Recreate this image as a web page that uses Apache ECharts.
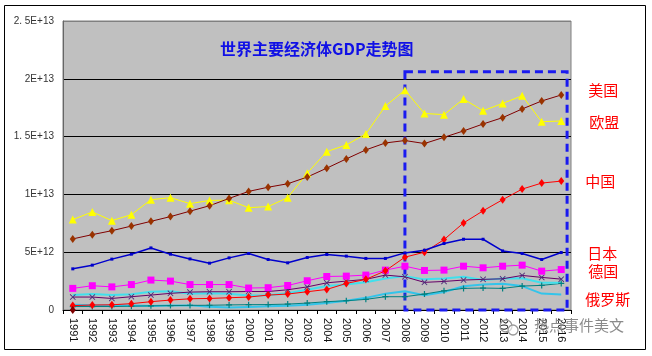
<!DOCTYPE html>
<html>
<head>
<meta charset="utf-8">
<script src="https://cdn.jsdelivr.net/npm/echarts@6/dist/echarts.min.js"></script>
<style>
html,body{margin:0;padding:0;background:#fff;}
#chart{width:652px;height:356px;}
</style>
</head>
<body>
<div id="chart"></div>
<script>
// Data (GDP, trillions of US$)
var years = ['1991','1992','1993','1994','1995','1996','1997','1998','1999','2000','2001','2002','2003','2004','2005','2006','2007','2008','2009','2010','2011','2012','2013','2014','2015','2016'];
var yTickLabels = ['0','5E+12','1E+13','1. 5E+13','2E+13','2. 5E+13'];
var titleText = '世界主要经济体GDP走势图';
var watermarkText = '热点事件美文';

var usa     = [6.15, 6.52, 6.86, 7.26, 7.67, 8.08, 8.55, 9.02, 9.65, 10.26, 10.62, 10.92, 11.5, 12.27, 13.07, 13.85, 14.45, 14.66, 14.4, 14.94, 15.49, 16.09, 16.64, 17.39, 18.08, 18.6];
var eu      = [7.82, 8.48, 7.73, 8.25, 9.54, 9.72, 9.2, 9.48, 9.5, 8.85, 8.95, 9.72, 11.84, 13.7, 14.28, 15.23, 17.64, 19.02, 17.0, 16.9, 18.25, 17.24, 17.87, 18.53, 16.29, 16.35];
var china   = [0.38, 0.43, 0.45, 0.55, 0.72, 0.86, 0.97, 1.0, 1.06, 1.12, 1.29, 1.38, 1.58, 1.78, 2.3, 2.65, 3.39, 4.57, 5.0, 6.09, 7.53, 8.58, 9.54, 10.46, 10.98, 11.15];
var japan   = [3.56, 3.88, 4.4, 4.83, 5.37, 4.83, 4.42, 4.05, 4.51, 4.89, 4.37, 4.08, 4.54, 4.8, 4.66, 4.46, 4.46, 4.94, 5.17, 5.75, 6.12, 6.12, 5.11, 4.89, 4.37, 4.97];
var germany = [1.87, 2.1, 2.0, 2.2, 2.59, 2.5, 2.2, 2.2, 2.2, 1.9, 1.93, 2.12, 2.53, 2.9, 2.93, 3.02, 3.45, 3.79, 3.42, 3.45, 3.79, 3.65, 3.79, 3.88, 3.36, 3.5];
var uk      = [1.12, 1.12, 1.0, 1.15, 1.29, 1.44, 1.55, 1.58, 1.58, 1.6, 1.6, 1.75, 2.0, 2.35, 2.5, 2.65, 3.02, 2.87, 2.39, 2.47, 2.59, 2.65, 2.7, 2.99, 2.82, 2.67];
var france  = [1.29, 1.38, 1.3, 1.36, 1.58, 1.62, 1.4, 1.44, 1.4, 1.25, 1.27, 1.45, 1.75, 2.07, 2.2, 2.4, 2.73, 2.93, 2.65, 2.73, 2.87, 2.59, 2.73, 2.75, 2.35, 2.35];
var india   = [0.3, 0.3, 0.3, 0.33, 0.36, 0.38, 0.4, 0.41, 0.44, 0.46, 0.47, 0.51, 0.6, 0.72, 0.8, 0.92, 1.15, 1.15, 1.38, 1.66, 1.87, 1.9, 1.87, 2.07, 2.13, 2.3];
var russia  = [0.45, 0.42, 0.4, 0.38, 0.35, 0.38, 0.4, 0.28, 0.22, 0.27, 0.32, 0.36, 0.45, 0.6, 0.8, 1.05, 1.4, 1.62, 1.27, 1.55, 2.05, 2.2, 2.28, 2.07, 1.42, 1.35];
var startPoint = [0];

// Highlight box: from 2008 (category centre) to just past 2016, up to this value
var boxStartIndex = 17.5;
var boxEndIndex = 25.8;
var boxTop = 20.6;

var chart = echarts.init(document.getElementById('chart'), null, {renderer: 'canvas'});

var xSymbol = 'path://M0,1 L1,0 L5,4 L9,0 L10,1 L6,5 L10,9 L9,10 L5,6 L1,10 L0,9 L4,5Z';
var plusSymbol = 'path://M4,0H6V4H10V6H6V10H4V6H0V4H4Z';
var cjk = '"Noto Sans CJK SC", sans-serif';
var tickFont = '"Liberation Sans", sans-serif';

function endLbl(text, dx, dy) {
  return {
    show: true,
    formatter: text,
    color: '#FF0000',
    fontFamily: cjk,
    fontSize: 15,
    distance: dx,
    offset: [0, dy]
  };
}

var option = {
  animation: false,
  backgroundColor: '#ffffff',
  title: {
    text: titleText,
    left: 215,
    top: 36,
    textStyle: {color: '#1010E6', fontSize: 16, fontWeight: 'bold', fontFamily: cjk}
  },
  grid: {
    left: 63, right: 81, top: 21, bottom: 46,
    show: true,
    backgroundColor: '#C0C0C0',
    borderColor: '#808080',
    borderWidth: 1
  },
  xAxis: [{
    type: 'category',
    data: years,
    boundaryGap: true,
    axisLine: {show: true, lineStyle: {color: '#000', width: 1}},
    axisTick: {show: true, length: 4, interval: 0, lineStyle: {color: '#000'}},
    axisLabel: {interval: 0, rotate: -90, margin: 8, color: '#111', fontSize: 11, fontFamily: tickFont},
    splitLine: {show: false}
  }, {
    type: 'value',
    min: 0, max: 26,
    show: false
  }],
  yAxis: {
    type: 'value',
    min: 0, max: 25, interval: 5,
    axisLine: {show: true, lineStyle: {color: '#666', width: 1}},
    axisTick: {show: false},
    axisLabel: {
      margin: 9,
      color: '#333',
      fontSize: 10,
      fontFamily: tickFont,
      formatter: function (v) { return yTickLabels[Math.round(v / 5)]; }
    },
    splitLine: {show: true, lineStyle: {color: ['#000', '#000', '#000', '#000', '#000', '#808080'], width: 1}}
  },
  series: [
    {
      name: '俄罗斯', type: 'line', data: russia, symbol: 'none',
      lineStyle: {color: '#33C4EA', width: 2}, itemStyle: {color: '#33C4EA'},
      endLabel: endLbl('俄罗斯', 24, 5), z: 2
    },
    {
      name: '印度', type: 'line', data: india, symbol: plusSymbol, symbolSize: 6,
      lineStyle: {color: '#008080', width: 1}, itemStyle: {color: '#008080'}, z: 2
    },
    {
      name: '法国', type: 'line', data: france, symbol: 'none',
      lineStyle: {color: '#40E0EC', width: 2}, itemStyle: {color: '#40E0EC'}, z: 2
    },
    {
      name: '英国', type: 'line', data: uk, symbol: xSymbol, symbolSize: 6,
      lineStyle: {color: '#660066', width: 1}, itemStyle: {color: '#4B2A7A'}, z: 3
    },
    {
      name: '德国', type: 'line', data: germany, symbol: 'rect', symbolSize: 7,
      lineStyle: {color: '#FF00FF', width: 1}, itemStyle: {color: '#FF00FF'},
      endLabel: endLbl('德国', 27, 2), z: 3
    },
    {
      name: '中国', type: 'line', data: china, symbol: 'diamond', symbolSize: [6, 8],
      lineStyle: {color: '#FF0000', width: 1}, itemStyle: {color: '#FF0000'},
      endLabel: endLbl('中国', 24, 0), z: 4
    },
    {
      name: '日本', type: 'line', data: japan, symbol: 'rect', symbolSize: 3,
      lineStyle: {color: '#0000CC', width: 1.5}, itemStyle: {color: '#0000CC'},
      endLabel: endLbl('日本', 26, 1), z: 4
    },
    {
      name: '欧盟', type: 'line', data: eu, symbol: 'triangle', symbolSize: 8,
      lineStyle: {color: '#FFFF00', width: 1}, itemStyle: {color: '#FFFF00'},
      endLabel: endLbl('欧盟', 28, 1), z: 5
    },
    {
      name: '美国', type: 'line', data: usa, symbol: 'diamond', symbolSize: [6, 8],
      lineStyle: {color: '#800000', width: 1}, itemStyle: {color: '#993300'},
      endLabel: endLbl('美国', 27, -5), z: 5
    },
    {
      name: '起点', type: 'line', data: startPoint, symbol: 'diamond', symbolSize: [6, 8],
      lineStyle: {color: '#800000', width: 1}, itemStyle: {color: '#800000'}, z: 5
    },
    {
      name: '框', type: 'line', xAxisIndex: 1, yAxisIndex: 0, data: [],
      markArea: {
        silent: true,
        itemStyle: {color: 'rgba(0,0,0,0)', borderColor: '#1A1AF0', borderWidth: 3, borderType: [8, 5]},
        data: [[{coord: [boxStartIndex, boxTop]}, {coord: [boxEndIndex, 0]}]]
      },
      z: 6
    }
  ],
  graphic: [
    {
      type: 'rect',
      shape: {x: 4.5, y: 5.5, width: 641, height: 344},
      style: {fill: 'none', stroke: '#000', lineWidth: 1},
      silent: true, z: 100
    },
    {
      type: 'circle', shape: {cx: 506, cy: 326, r: 6},
      style: {fill: 'none', stroke: '#9a9a9a', lineWidth: 1.3}, z: 100
    },
    {
      type: 'circle', shape: {cx: 513, cy: 330, r: 5},
      style: {fill: 'rgba(255,255,255,0.6)', stroke: '#9a9a9a', lineWidth: 1.3}, z: 100
    },
    {
      type: 'text', left: 534, top: 318,
      style: {text: watermarkText, fill: '#8a8a8a', font: '15px "Noto Sans CJK SC"'},
      z: 100
    }
  ]
};

chart.setOption(option);
</script>
</body>
</html>
